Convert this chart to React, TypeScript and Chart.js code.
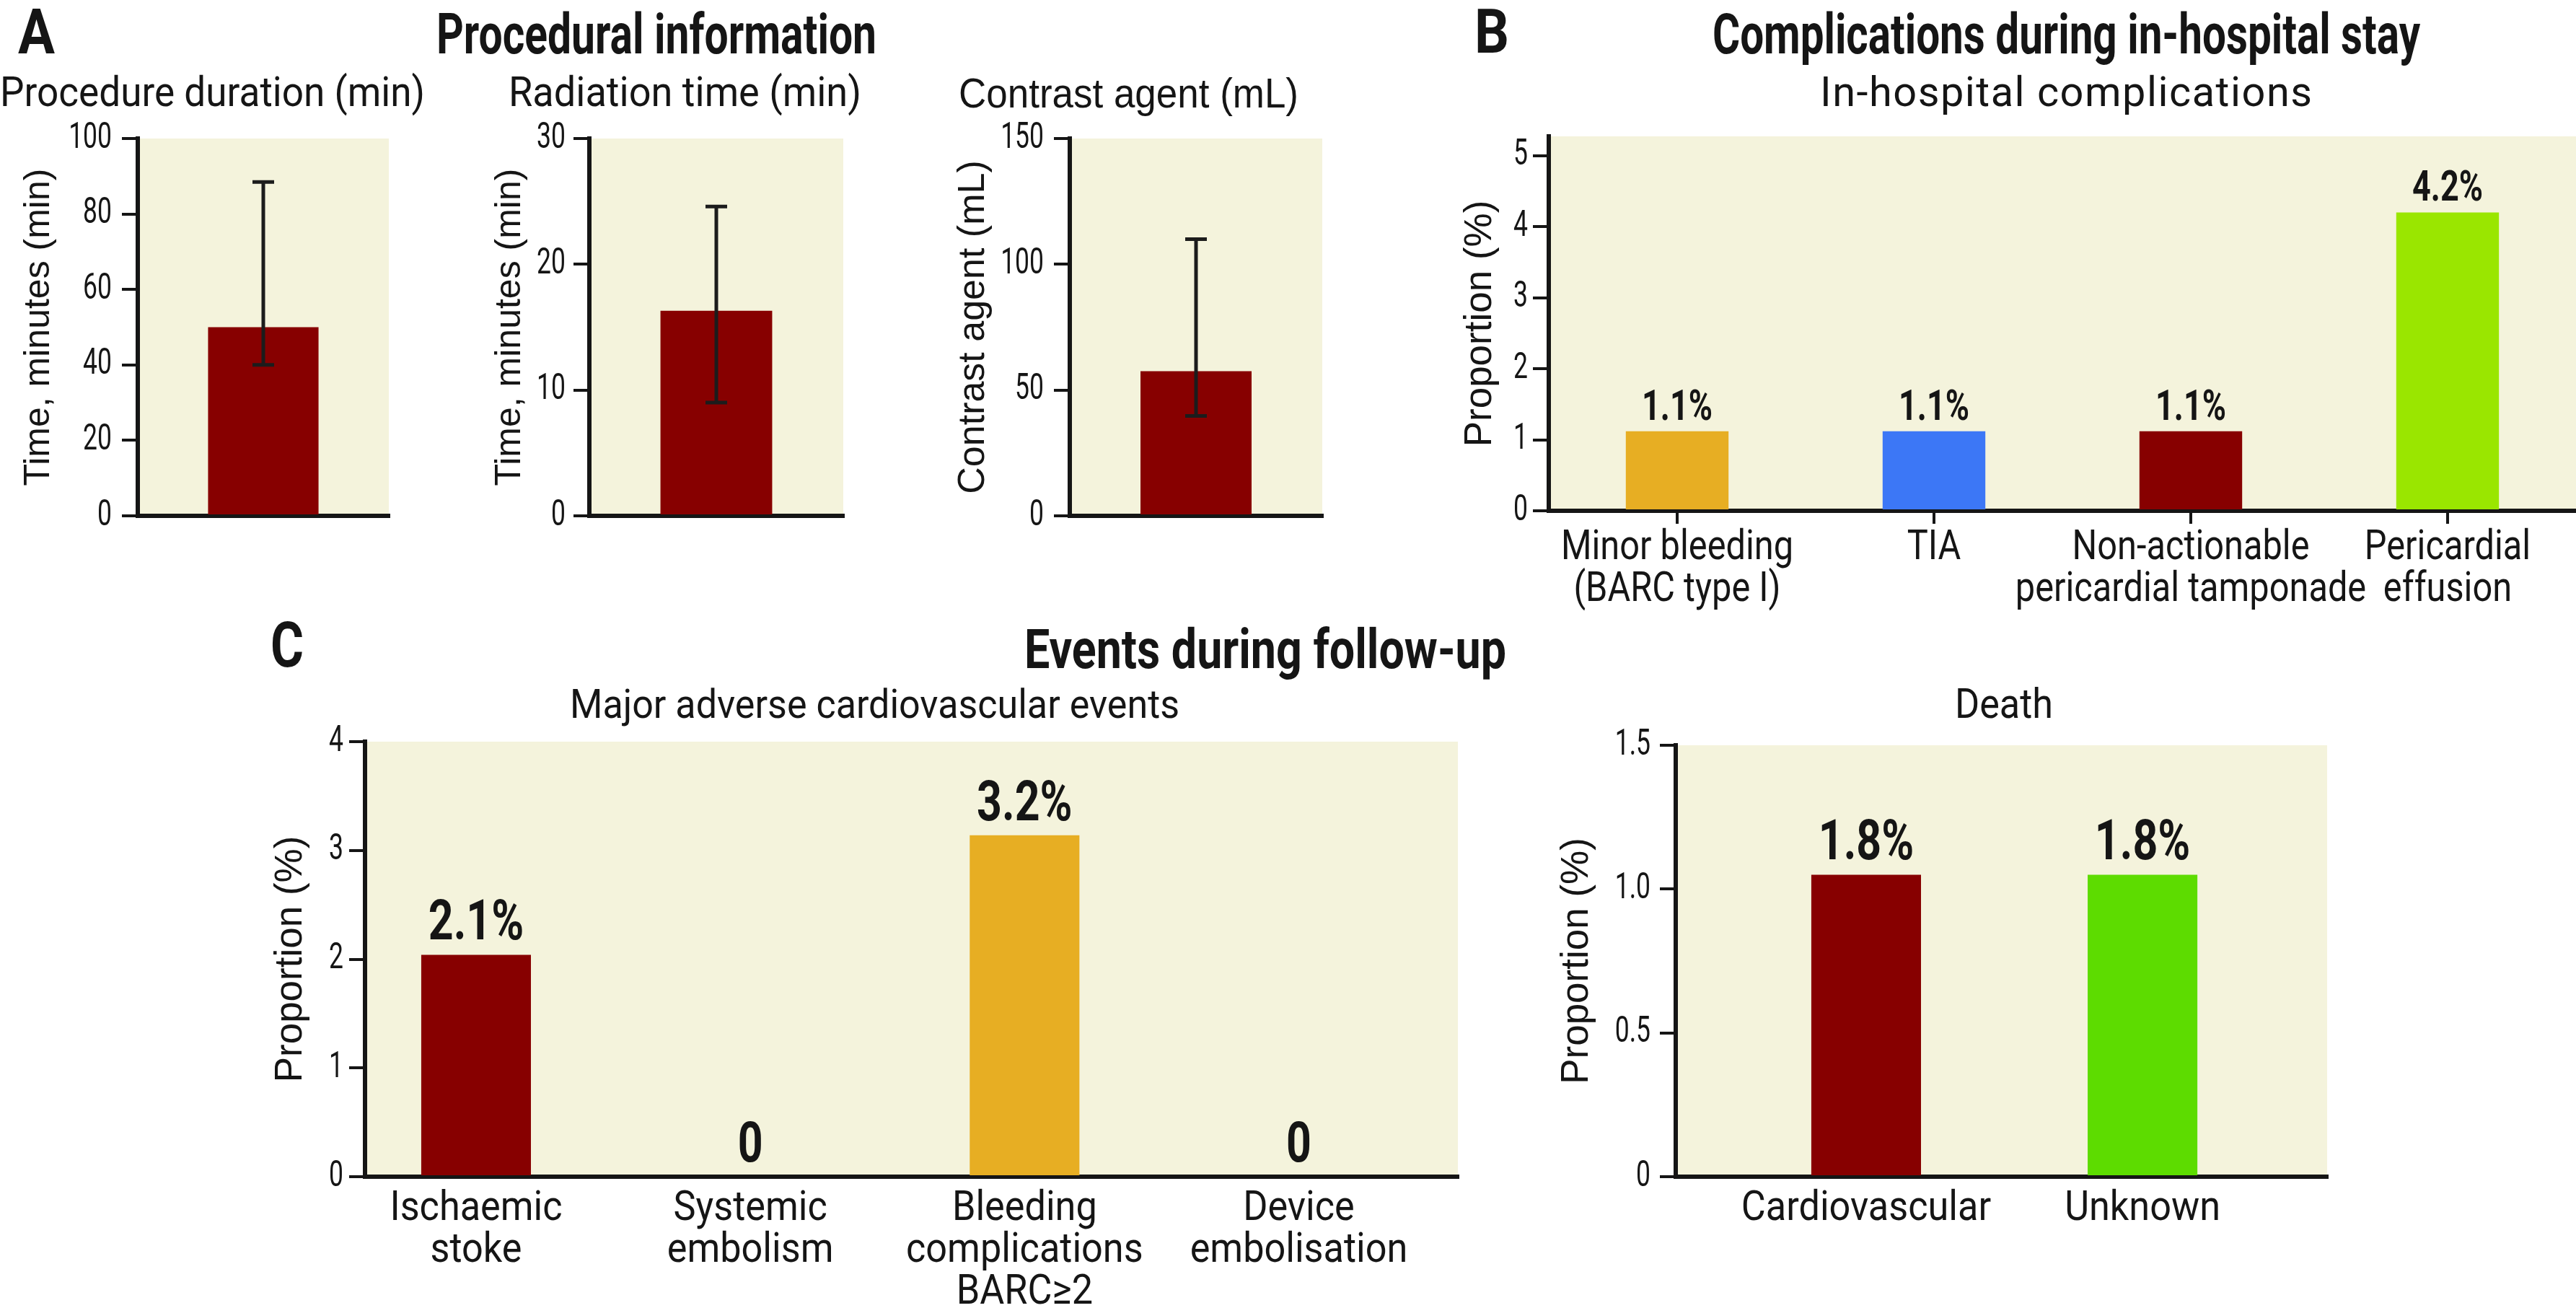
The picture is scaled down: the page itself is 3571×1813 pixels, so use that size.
import React, { useEffect, useRef } from 'react';
import { Chart, registerables } from 'chart.js';

Chart.register(...registerables);

// ================= DATA =================
const procedureDurationMean = [50];
const procedureDurationErrLow = [40];
const procedureDurationErrHigh = [88.5];
const procedureDurationTicks = [0, 20, 40, 60, 80, 100];

const radiationTimeMean = [16.3];
const radiationTimeErrLow = [9];
const radiationTimeErrHigh = [24.6];
const radiationTimeTicks = [0, 10, 20, 30];

const contrastAgentMean = [57.5];
const contrastAgentErrLow = [39.7];
const contrastAgentErrHigh = [110];
const contrastAgentTicks = [0, 50, 100, 150];

const inHospitalCategories: any[] = [
  ['Minor bleeding', '(BARC type I)'],
  'TIA',
  ['Non-actionable', 'pericardial tamponade'],
  ['Pericardial', 'effusion'],
];
const inHospitalValues = [1.12, 1.12, 1.12, 4.2];
const inHospitalLabels = ['1.1%', '1.1%', '1.1%', '4.2%'];
const inHospitalTicks = [0, 1, 2, 3, 4, 5];

const maceCategories: any[] = [
  ['Ischaemic', 'stoke'],
  ['Systemic', 'embolism'],
  ['Bleeding', 'complications', 'BARC≥2'],
  ['Device', 'embolisation'],
];
const maceValues = [2.04, 0, 3.14, 0];
const maceLabels = ['2.1%', '0', '3.2%', '0'];
const maceTicks = [0, 1, 2, 3, 4];

const deathCategories: any[] = ['Cardiovascular', 'Unknown'];
const deathValues = [1.05, 1.05];
const deathLabels = ['1.8%', '1.8%'];
const deathTicks = [0, 0.5, 1, 1.5];
const deathTickLabels = ['0', '0.5', '1.0', '1.5'];

// ================= STYLE =================
const INK = '#151515';
const CREAM = '#F4F3DC';
const RED = '#870000';
const GOLD = '#E7AE23';
const BLUE = '#3C77F6';
const LIME = '#9AE600';
const GREEN = '#5DDC00';

const SANS = '"Liberation Sans", Arial, sans-serif';
const TICK_FAMILY = 'cond71, Roboto, sans-serif';

// Horizontal text compression for fonts tagged "condNN" (emulates a condensed face)
function enableCondensedText(ctx: any) {
  if (ctx.__condensed) return;
  ctx.__condensed = true;
  const fill = ctx.fillText.bind(ctx);
  const measure = ctx.measureText.bind(ctx);
  const factor = () => {
    const m = /cond(\d+)/.exec(ctx.font);
    return m ? Number(m[1]) / 100 : 1;
  };
  ctx.fillText = (text: string, x: number, y: number, maxWidth?: number) => {
    const f = factor();
    if (f === 1) {
      if (maxWidth === undefined) fill(text, x, y);
      else fill(text, x, y, maxWidth);
      return;
    }
    ctx.save();
    ctx.translate(x, y);
    ctx.scale(f, 1);
    if (maxWidth === undefined) fill(text, 0, 0);
    else fill(text, 0, 0, maxWidth / f);
    ctx.restore();
  };
  ctx.measureText = (text: string) => {
    const m = measure(text);
    const f = factor();
    if (f === 1) return m;
    return {
      width: m.width * f,
      actualBoundingBoxLeft: m.actualBoundingBoxLeft * f,
      actualBoundingBoxRight: m.actualBoundingBoxRight * f,
      actualBoundingBoxAscent: m.actualBoundingBoxAscent,
      actualBoundingBoxDescent: m.actualBoundingBoxDescent,
      fontBoundingBoxAscent: m.fontBoundingBoxAscent,
      fontBoundingBoxDescent: m.fontBoundingBoxDescent,
    };
  };
}

const plotBackground = {
  id: 'plotBackground',
  beforeDraw(chart: any) {
    const { ctx, chartArea: a } = chart;
    ctx.save();
    ctx.fillStyle = CREAM;
    ctx.fillRect(a.left, a.top, a.right - a.left, a.bottom - a.top);
    ctx.restore();
  },
};

function errorBarPlugin(low: number[], high: number[]) {
  return {
    id: 'errorBars',
    afterDatasetsDraw(chart: any) {
      const { ctx } = chart;
      const y = chart.scales.y;
      const meta = chart.getDatasetMeta(0);
      ctx.save();
      ctx.strokeStyle = '#1c1c1c';
      ctx.lineWidth = 5;
      meta.data.forEach((bar: any, i: number) => {
        const yl = y.getPixelForValue(low[i]);
        const yh = y.getPixelForValue(high[i]);
        const cap = 15;
        ctx.beginPath();
        ctx.moveTo(bar.x, yl);
        ctx.lineTo(bar.x, yh);
        ctx.moveTo(bar.x - cap, yh);
        ctx.lineTo(bar.x + cap, yh);
        ctx.moveTo(bar.x - cap, yl);
        ctx.lineTo(bar.x + cap, yl);
        ctx.stroke();
      });
      ctx.restore();
    },
  };
}

function valueLabelPlugin(labels: string[], font: string, gap: number) {
  return {
    id: 'valueLabels',
    afterDatasetsDraw(chart: any) {
      const { ctx } = chart;
      const meta = chart.getDatasetMeta(0);
      ctx.save();
      ctx.font = font;
      ctx.fillStyle = INK;
      ctx.textAlign = 'center';
      ctx.textBaseline = 'alphabetic';
      meta.data.forEach((bar: any, i: number) => {
        ctx.fillText(labels[i], bar.x, bar.y - gap);
      });
      ctx.restore();
    },
  };
}

function makeConfig(o: any) {
  const c = o.canvas;
  const p = o.plot;
  const yAxisWidth = p.left - c.left;
  const xAxisHeight = c.top + c.height - p.bottom;
  const padTop = p.top - c.top;
  const padRight = c.left + c.width - p.right;
  const titleLH = o.yTitleSize * 1.2;
  const linearX = o.xMin !== undefined;
  const data = linearX ? o.values.map((v: number, i: number) => ({ x: i, y: v })) : o.values;

  const plugins: any[] = [plotBackground];
  if (o.errLow) plugins.push(errorBarPlugin(o.errLow, o.errHigh));
  if (o.valueLabels) plugins.push(valueLabelPlugin(o.valueLabels, o.valueFont, o.valueGap));

  const xScale: any = {
    type: linearX ? 'linear' : 'category',
    offset: !linearX,
    afterFit: (s: any) => {
      s.height = xAxisHeight;
    },
    border: { display: true, width: 6, color: INK },
    grid: {
      display: o.xTickLen > 0,
      drawOnChartArea: false,
      drawTicks: o.xTickLen > 0,
      tickLength: o.xTickLen,
      lineWidth: 4,
      color: INK,
      offset: false,
    },
    ticks: {
      display: !!o.showXLabels,
      padding: o.xLabelPad || 0,
      color: INK,
      font: { family: o.xLabelFamily || 'cond90, Roboto, sans-serif', size: 58, lineHeight: 1.0 },
      maxRotation: 0,
      minRotation: 0,
      autoSkip: false,
    },
  };
  if (linearX) {
    xScale.min = o.xMin;
    xScale.max = o.xMax;
    xScale.afterBuildTicks = (s: any) => {
      s.ticks = o.categories.map((_: any, i: number) => ({ value: i }));
    };
    xScale.ticks.callback = (_v: any, i: number) => o.categories[i];
  }

  return {
    type: 'bar',
    data: {
      labels: linearX ? undefined : o.categories,
      datasets: [
        {
          data,
          backgroundColor: o.colors,
          borderWidth: 0,
          barPercentage: o.barPct,
          categoryPercentage: 1,
        },
      ],
    },
    options: {
      animation: false,
      responsive: false,
      devicePixelRatio: 1,
      layout: { padding: { top: padTop, right: padRight, left: 0, bottom: 0 } },
      plugins: {
        legend: { display: false },
        tooltip: { enabled: false },
        title: { display: false },
      },
      scales: {
        x: xScale,
        y: {
          min: 0,
          max: o.yMax,
          afterBuildTicks: (s: any) => {
            s.ticks = o.yTicks.map((v: number) => ({ value: v }));
          },
          afterFit: (s: any) => {
            s.width = yAxisWidth;
          },
          border: { display: true, width: 6, color: INK },
          grid: {
            display: true,
            drawOnChartArea: false,
            drawTicks: true,
            tickLength: 22,
            lineWidth: 4,
            color: INK,
          },
          ticks: {
            padding: o.yTickPad,
            color: INK,
            font: { family: TICK_FAMILY, size: 50 },
            callback: (v: any, i: number) => (o.yTickLabels ? o.yTickLabels[i] : String(v)),
          },
          title: {
            display: true,
            text: o.yTitle,
            color: INK,
            font: { family: SANS, size: o.yTitleSize, lineHeight: 1.2 },
            padding: { top: o.yTitleCenter - c.left - titleLH / 2, bottom: 0 },
          },
        },
      },
    },
    plugins,
  };
}

// ================= CHART SPECS (layout) =================
const chartSpecs: any[] = [
  {
    key: 'a1',
    canvas: { left: 0, top: 140, width: 600, height: 620 },
    plot: { left: 191, top: 192, right: 539, bottom: 715 },
    categories: ['Procedure duration'],
    values: procedureDurationMean,
    errLow: procedureDurationErrLow,
    errHigh: procedureDurationErrHigh,
    colors: [RED],
    barPct: 0.44,
    yMax: 100,
    yTicks: procedureDurationTicks,
    yTitle: 'Time, minutes (min)',
    yTitleCenter: 54,
    yTitleSize: 50,
    yTickPad: 14,
    xTickLen: 0,
    showXLabels: false,
  },
  {
    key: 'a2',
    canvas: { left: 640, top: 140, width: 570, height: 620 },
    plot: { left: 817, top: 192, right: 1169, bottom: 715 },
    categories: ['Radiation time'],
    values: radiationTimeMean,
    errLow: radiationTimeErrLow,
    errHigh: radiationTimeErrHigh,
    colors: [RED],
    barPct: 0.44,
    yMax: 30,
    yTicks: radiationTimeTicks,
    yTitle: 'Time, minutes (min)',
    yTitleCenter: 707,
    yTitleSize: 50,
    yTickPad: 11,
    xTickLen: 0,
    showXLabels: false,
  },
  {
    key: 'a3',
    canvas: { left: 1290, top: 140, width: 590, height: 620 },
    plot: { left: 1483, top: 192, right: 1833, bottom: 715 },
    categories: ['Contrast agent'],
    values: contrastAgentMean,
    errLow: contrastAgentErrLow,
    errHigh: contrastAgentErrHigh,
    colors: [RED],
    barPct: 0.44,
    yMax: 150,
    yTicks: contrastAgentTicks,
    yTitle: 'Contrast agent (mL)',
    yTitleCenter: 1350,
    yTitleSize: 52,
    yTickPad: 14,
    xTickLen: 0,
    showXLabels: false,
  },
  {
    key: 'b',
    canvas: { left: 1990, top: 140, width: 1581, height: 730 },
    plot: { left: 2147, top: 189, right: 3571, bottom: 708 },
    categories: inHospitalCategories,
    values: inHospitalValues,
    colors: [GOLD, BLUE, RED, LIME],
    barPct: 0.4,
    yMax: 5.27,
    yTicks: inHospitalTicks,
    yTitle: 'Proportion (%)',
    yTitleCenter: 2052,
    yTitleSize: 53,
    yTickPad: 7,
    xTickLen: 18,
    xLabelPad: 5,
    xLabelFamily: 'cond84, Roboto, sans-serif',
    showXLabels: true,
    valueLabels: inHospitalLabels,
    valueFont: 'bold 60px cond75, Roboto, sans-serif',
    valueGap: 16,
  },
  {
    key: 'c1',
    canvas: { left: 340, top: 990, width: 1720, height: 823 },
    plot: { left: 506, top: 1026, right: 2021, bottom: 1631 },
    categories: maceCategories,
    values: maceValues,
    colors: [RED, RED, GOLD, RED],
    barPct: 0.4,
    xMin: -0.405,
    xMax: 3.58,
    yMax: 4,
    yTicks: maceTicks,
    yTitle: 'Proportion (%)',
    yTitleCenter: 403,
    yTitleSize: 53,
    yTickPad: 8,
    xTickLen: 0,
    xLabelPad: 16,
    showXLabels: true,
    valueLabels: maceLabels,
    valueFont: 'bold 77px cond79, Roboto, sans-serif',
    valueGap: 21,
  },
  {
    key: 'c2',
    canvas: { left: 2120, top: 990, width: 1180, height: 823 },
    plot: { left: 2323, top: 1026, right: 3226, bottom: 1631 },
    categories: deathCategories,
    values: deathValues,
    colors: [RED, GREEN],
    barPct: 0.397,
    xMin: -0.689,
    xMax: 1.668,
    yMax: 1.5,
    yTicks: deathTicks,
    yTickLabels: deathTickLabels,
    yTitle: 'Proportion (%)',
    yTitleCenter: 2186,
    yTitleSize: 53,
    yTickPad: 13,
    xTickLen: 0,
    xLabelPad: 16,
    showXLabels: true,
    valueLabels: deathLabels,
    valueFont: 'bold 77px cond79, Roboto, sans-serif',
    valueGap: 21,
  },
];

// ================= HEADINGS (HTML text) =================
const ROBOTO = { family: 'Roboto, sans-serif', cap: 0.711, asc: 0.928, desc: 0.244 };
const LIBSANS = { family: SANS, cap: 0.716, asc: 0.905, desc: 0.212 };

const headings: any[] = [
  { text: 'A', left: 25, width: 51, capTop: 12, baseline: 74, weight: 700, m: ROBOTO },
  { text: 'Procedural information', left: 605, width: 610, capTop: 19, baseline: 74, weight: 700, m: ROBOTO },
  { text: 'Procedure duration (min)', left: 0, width: 589, capTop: 107, baseline: 148, weight: 400, m: ROBOTO },
  { text: 'Radiation time (min)', left: 705, width: 489, capTop: 107, baseline: 148, weight: 400, m: ROBOTO },
  { text: 'Contrast agent (mL)', left: 1329, width: 471, capTop: 108, baseline: 149, weight: 400, m: LIBSANS },
  { text: 'B', left: 2044, width: 48, capTop: 12, baseline: 73, weight: 700, m: ROBOTO },
  { text: 'Complications during in-hospital stay', left: 2374, width: 981, capTop: 19, baseline: 74, weight: 700, m: ROBOTO },
  { text: 'In-hospital complications', left: 2523, width: 682, capTop: 107, baseline: 148, weight: 400, m: ROBOTO },
  { text: 'C', left: 375, width: 46, capTop: 862, baseline: 924, weight: 700, m: ROBOTO },
  { text: 'Events during follow-up', left: 1420, width: 668, capTop: 873, baseline: 927, weight: 700, m: ROBOTO },
  { text: 'Major adverse cardiovascular events', left: 790, width: 845, capTop: 955, baseline: 995, weight: 400, m: ROBOTO },
  { text: 'Death', left: 2710, width: 136, capTop: 955, baseline: 996, weight: 400, m: ROBOTO },
];

let measureCtx: CanvasRenderingContext2D | null = null;
function naturalWidth(text: string, font: string) {
  if (!measureCtx) measureCtx = document.createElement('canvas').getContext('2d');
  measureCtx!.font = font;
  return measureCtx!.measureText(text).width;
}

function Heading({ h }: { h: any }) {
  const m = h.m;
  const size = (h.baseline - h.capTop) / m.cap;
  const natural = naturalWidth(h.text, `${h.weight} ${size}px ${m.family}`);
  const k = h.width / natural;
  const halfLeading = (1 - (m.asc + m.desc)) / 2;
  const top = h.baseline - (halfLeading + m.asc) * size;
  const chars = Array.from(h.text as string).length;
  const style: any = {
    position: 'absolute',
    left: h.left,
    top,
    fontFamily: m.family,
    fontWeight: h.weight,
    fontSize: size,
    lineHeight: `${size}px`,
    whiteSpace: 'nowrap',
    color: INK,
    transformOrigin: 'left top',
  };
  if (k < 1) style.transform = `scaleX(${k})`;
  else if (chars > 1) style.letterSpacing = `${(h.width - natural) / (chars - 1)}px`;
  return <div style={style}>{h.text}</div>;
}

function BarChart({ spec }: { spec: any }) {
  const ref = useRef<HTMLCanvasElement>(null);
  useEffect(() => {
    const canvas = ref.current!;
    const ctx = canvas.getContext('2d')!;
    enableCondensedText(ctx);
    const chart = new Chart(ctx, makeConfig(spec) as any);
    return () => chart.destroy();
  }, [spec]);
  const c = spec.canvas;
  return (
    <canvas
      ref={ref}
      width={c.width}
      height={c.height}
      style={{ position: 'absolute', left: c.left, top: c.top, width: c.width, height: c.height }}
    />
  );
}

export default function App() {
  return (
    <div
      style={{
        position: 'absolute',
        left: 0,
        top: 0,
        width: 3571,
        height: 1813,
        background: '#ffffff',
        overflow: 'hidden',
      }}
    >
      {headings.map((h) => (
        <Heading key={h.text} h={h} />
      ))}
      {chartSpecs.map((s) => (
        <BarChart key={s.key} spec={s} />
      ))}
    </div>
  );
}
